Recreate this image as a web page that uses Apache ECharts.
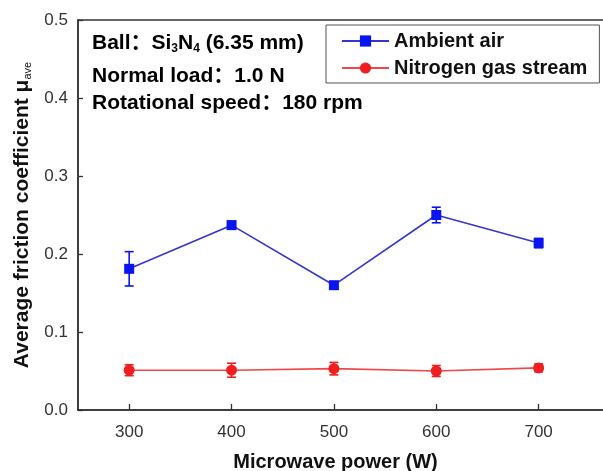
<!DOCTYPE html>
<html>
<head>
<meta charset="utf-8">
<script src="https://cdn.jsdelivr.net/npm/echarts@6/dist/echarts.min.js"></script>
<style>
  html, body { margin: 0; padding: 0; background: #fff; }
  #chart { width: 603px; height: 471px; }
</style>
</head>
<body>
<div id="chart"></div>
<script>
// Microwave power settings (W)
const powers = [300, 400, 500, 600, 700];
// Average friction coefficient, tests in ambient air
const airMean = [0.181, 0.237, 0.160, 0.250, 0.214];
const airErr  = [0.022, 0.005, 0.003, 0.010, 0.006];
// Average friction coefficient, tests under nitrogen gas stream
const n2Mean = [0.051, 0.051, 0.053, 0.050, 0.054];
const n2Err  = [0.007, 0.009, 0.008, 0.007, 0.005];
// Y axis range
const yMin = 0, yMax = 0.5, yStep = 0.1;

const FONT = '"Liberation Sans", Arial, "Noto Sans CJK SC", sans-serif';
const BLUE = '#0a14f0', BLUE_LINE = '#3535d0';
const RED = '#f01e1e', RED_LINE = '#f04848';

function errorBars(mean, err, color) {
  return {
    type: 'custom',
    silent: true,
    z: 3,
    encode: { x: 0, y: [1, 2] },
    data: powers.map((p, i) => [p, mean[i] - err[i], mean[i] + err[i]]),
    renderItem(params, api) {
      const x = api.value(0);
      const lo = api.coord([x, api.value(1)]);
      const hi = api.coord([x, api.value(2)]);
      const w = 4.5;
      const st = { stroke: color, lineWidth: 1.6 };
      return {
        type: 'group',
        children: [
          { type: 'line', shape: { x1: lo[0], y1: lo[1], x2: hi[0], y2: hi[1] }, style: st },
          { type: 'line', shape: { x1: lo[0] - w, y1: lo[1], x2: lo[0] + w, y2: lo[1] }, style: st },
          { type: 'line', shape: { x1: hi[0] - w, y1: hi[1], x2: hi[0] + w, y2: hi[1] }, style: st }
        ]
      };
    }
  };
}

const chart = echarts.init(document.getElementById('chart'), null, { renderer: 'canvas' });

const richBold = {
  b: { fontFamily: FONT, fontSize: 21, fontWeight: 'bold', color: '#111', lineHeight: 23 },
  s: { fontFamily: FONT, fontSize: 12, fontWeight: 'bold', color: '#111', lineHeight: 11, verticalAlign: 'bottom' }
};

chart.setOption({
  animation: false,
  backgroundColor: '#fff',
  grid: {
    left: 78, top: 20, bottom: 61, right: -38,
    containLabel: false,
    outerBoundsMode: 'none',
    show: true,
    borderColor: '#333',
    borderWidth: 1.5,
    backgroundColor: 'transparent'
  },
  legend: {
    orient: 'vertical',
    left: 326, top: 25,
    padding: [6, 12, 5, 15],
    itemGap: 7,
    itemWidth: 47, itemHeight: 14,
    borderColor: '#555', borderWidth: 1, borderRadius: 0,
    textStyle: { fontFamily: FONT, fontSize: 20, fontWeight: 'bold', color: '#111' },
    data: ['Ambient air', 'Nitrogen gas stream']
  },
  xAxis: {
    type: 'value',
    min: 250, max: 800,
    name: 'Microwave power (W)',
    nameLocation: 'middle',
    nameGap: 42,
    nameTextStyle: { fontFamily: FONT, fontSize: 20, fontWeight: 'bold', color: '#111', padding: [0, 48, 0, 0] },
    axisLine: { lineStyle: { color: '#333', width: 1.5 } },
    axisTick: { inside: true, length: 6, customValues: powers, lineStyle: { color: '#333', width: 1.3 } },
    axisLabel: { customValues: powers, margin: 14, fontFamily: FONT, fontSize: 17, color: '#333' },
    splitLine: { show: false }
  },
  yAxis: {
    type: 'value',
    min: yMin, max: yMax, interval: yStep,
    name: '{b|Average friction coefficient μ}{s|ave}',
    nameLocation: 'middle',
    nameGap: 44,
    nameRotate: 90,
    nameTextStyle: { rich: {
      b: { fontFamily: FONT, fontSize: 21, fontWeight: 'bold', color: '#111', lineHeight: 23 },
      s: { fontFamily: FONT, fontSize: 11, color: '#111', lineHeight: 11, verticalAlign: 'bottom' }
    } },
    axisLine: { show: true, lineStyle: { color: '#333', width: 1.5 } },
    axisTick: { show: true, inside: true, length: 5, lineStyle: { color: '#333', width: 1.3 } },
    axisLabel: { margin: 10, fontFamily: FONT, fontSize: 17, color: '#333', formatter: v => v.toFixed(1) },
    splitLine: { show: false }
  },
  graphic: [
    { type: 'text', left: 92, top: 33, style: { text: '{b|Ball：Si}{s|3}{b|N}{s|4}{b| (6.35 mm)}', rich: richBold } },
    { type: 'text', left: 92, top: 66, style: { text: '{b|Normal load：1.0 N}', rich: richBold } },
    { type: 'text', left: 92, top: 93, style: { text: '{b|Rotational speed：180 rpm}', rich: richBold } }
  ],
  series: [
    {
      name: 'Ambient air',
      type: 'line',
      data: powers.map((p, i) => [p, airMean[i]]),
      symbol: 'rect', symbolSize: 10,
      itemStyle: { color: BLUE },
      lineStyle: { color: BLUE_LINE, width: 1.6 },
      z: 4
    },
    {
      name: 'Nitrogen gas stream',
      type: 'line',
      data: powers.map((p, i) => [p, n2Mean[i]]),
      symbol: 'circle', symbolSize: 11,
      itemStyle: { color: RED },
      lineStyle: { color: RED_LINE, width: 1.6 },
      z: 4
    },
    errorBars(airMean, airErr, BLUE),
    errorBars(n2Mean, n2Err, RED)
  ]
});
</script>
</body>
</html>
